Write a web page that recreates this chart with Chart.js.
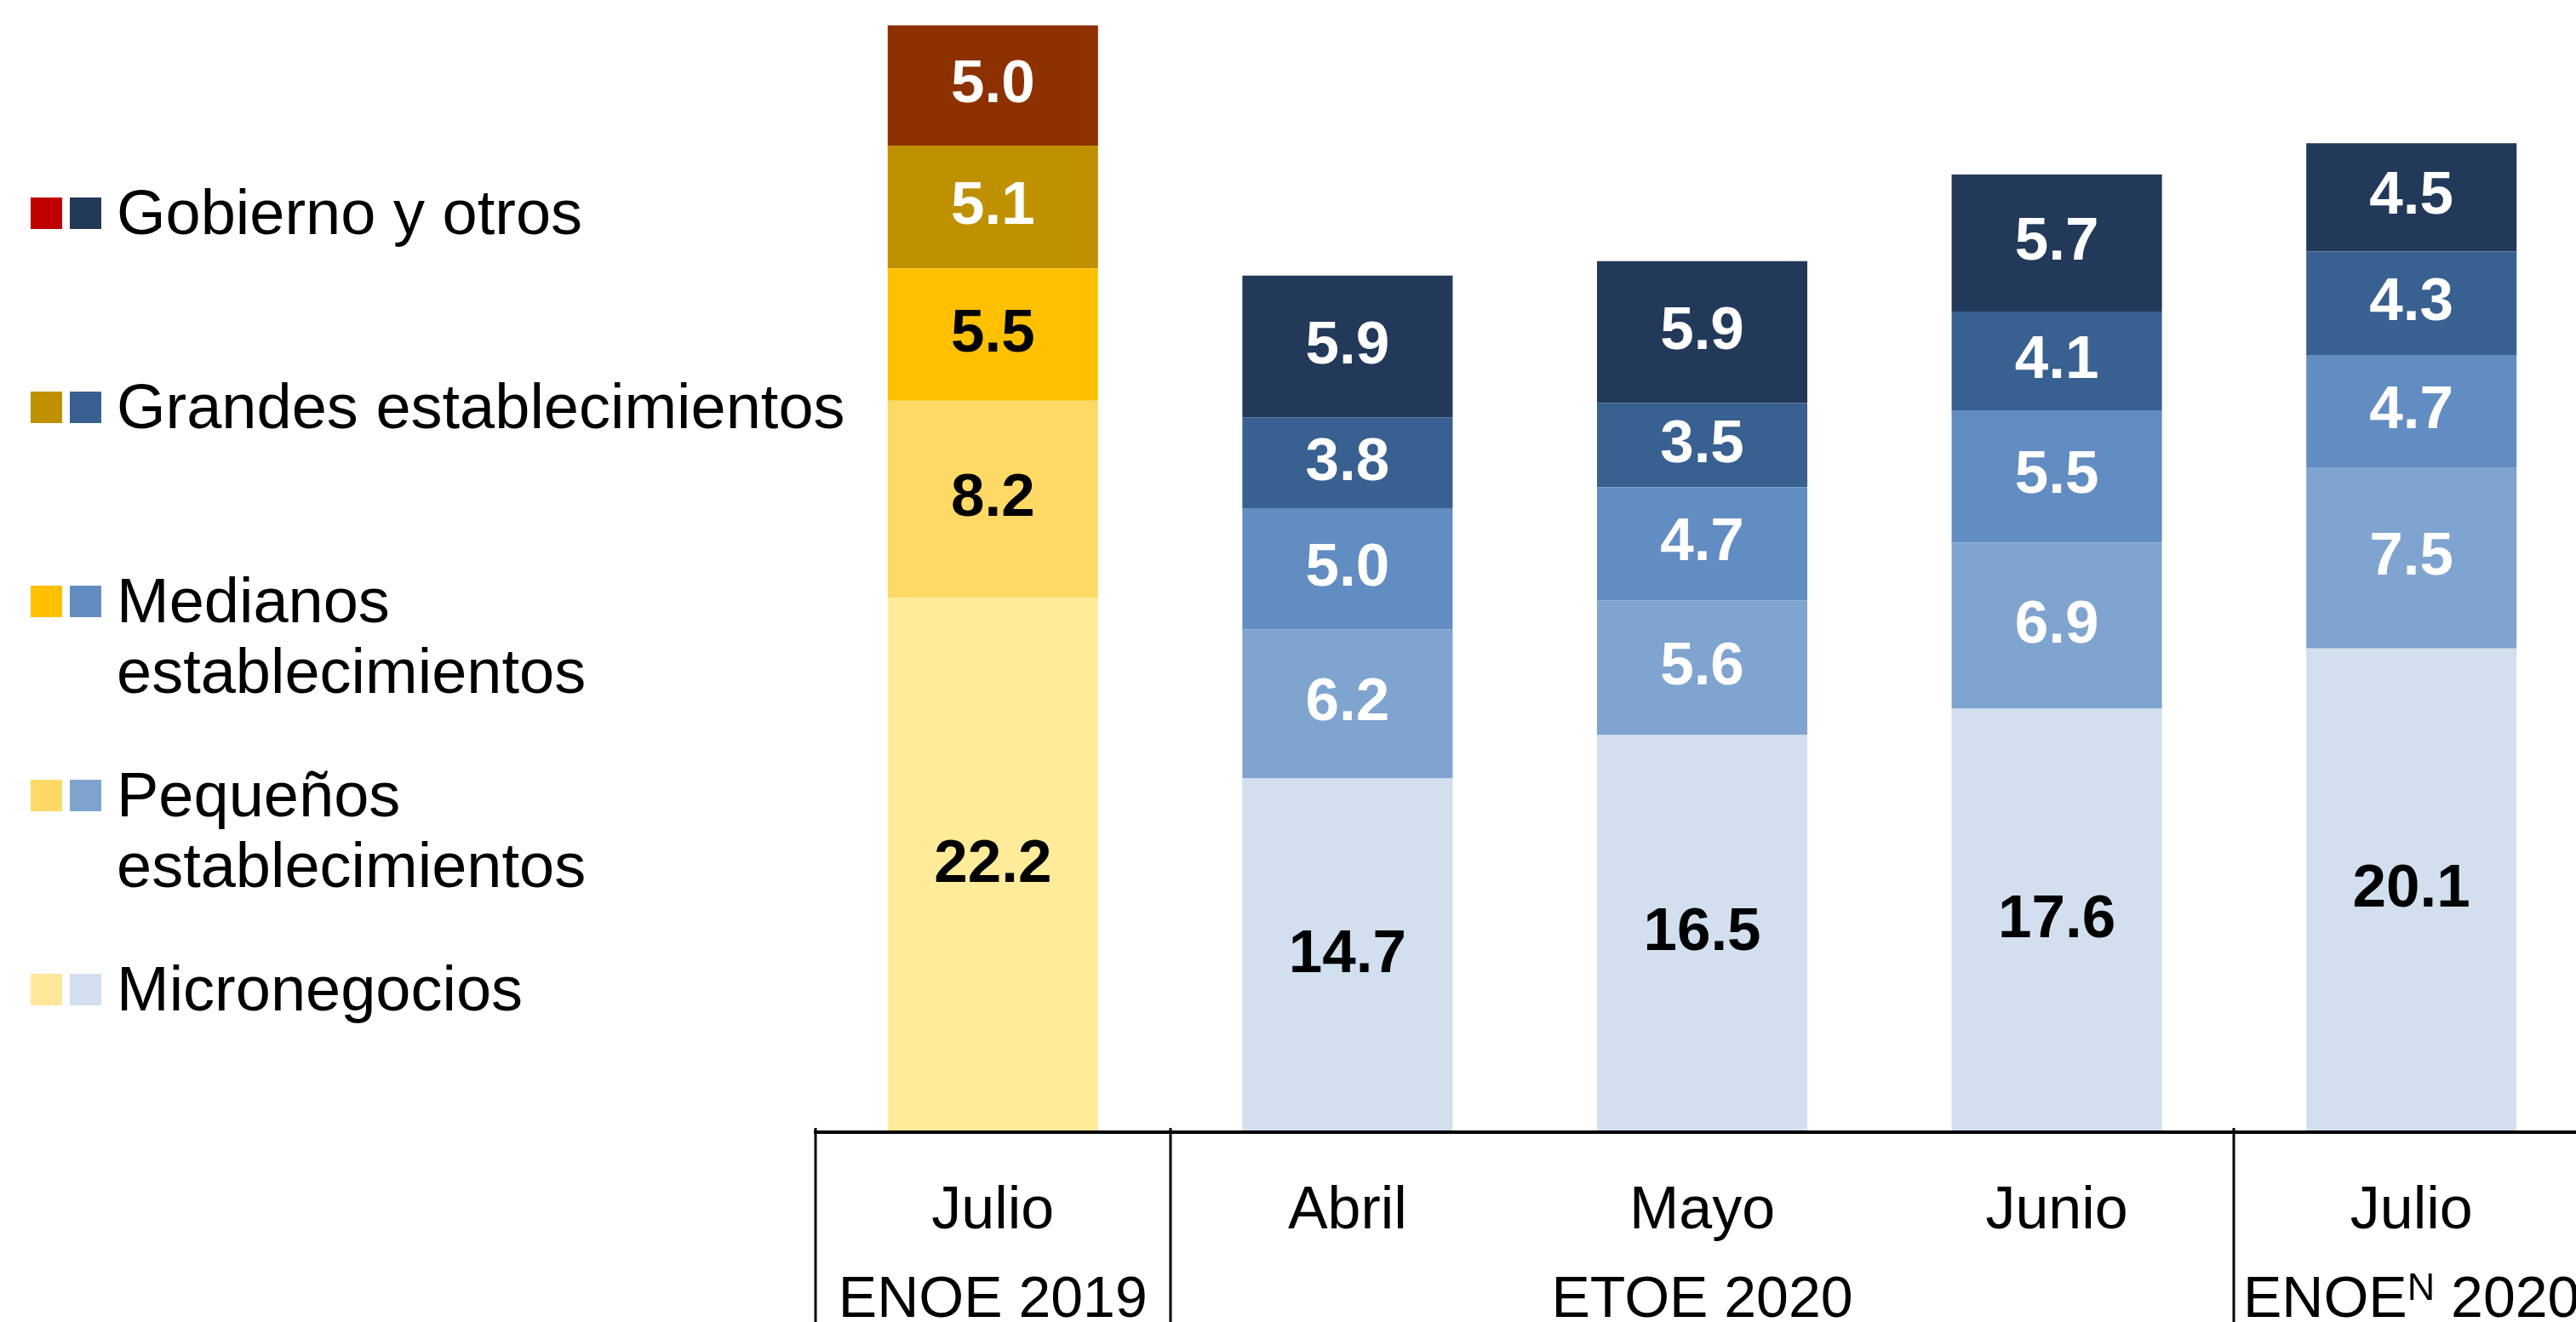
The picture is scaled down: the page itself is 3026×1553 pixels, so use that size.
<!DOCTYPE html>
<html>
<head>
<meta charset="utf-8">
<script src="https://cdn.jsdelivr.net/npm/chart.js@4.4.1/dist/chart.umd.min.js"></script>
<style>
  html, body { margin: 0; padding: 0; background: #ffffff; overflow: hidden; }
  body { width: 3026px; height: 1553px; position: relative; font-family: 'Liberation Sans', Arial, sans-serif; }
  #wrap { position: absolute; left: 0; top: 0; width: 3060px; height: 1553px; }
  .legend-row { position: absolute; left: 0; width: 1000px; height: 200px; }
  .legend-row .sw { position: absolute; top: 24px; width: 37px; height: 37px; }
  .legend-row .sw.a { left: 36px; }
  .legend-row .sw.b { left: 82px; }
  .legend-row .txt { position: absolute; left: 137px; top: 0; font-size: 74px; line-height: 83px; color: #000; white-space: pre; }
</style>
</head>
<body>
<div id="wrap"><canvas id="chart" width="3060" height="1553"></canvas></div>
<div id="legend"></div>
<script>
// categories and survey groups
const categories = ['Julio', 'Abril', 'Mayo', 'Junio', 'Julio'];
const surveyNames = ['ENOE', 'ETOE', 'ENOE'];
const surveySup = ['', '', 'N'];
const surveyYears = ['2019', '2020', '2020'];
const surveyAt = [0, 2, 4];          // category under which each survey label sits
const groupEdges = [0, 1, 4, 5];     // category boundaries with a separator line

// series values (stack order bottom -> top)
const micronegocios = [22.2, 14.7, 16.5, 17.6, 20.1];
const pequenos = [8.2, 6.2, 5.6, 6.9, 7.5];
const medianos = [5.5, 5.0, 4.7, 5.5, 4.7];
const grandes = [5.1, 3.8, 3.5, 4.1, 4.3];
const gobierno = [5.0, 5.9, 5.9, 5.7, 4.5];

const seriesNames = ['Micronegocios', 'Pequeños\nestablecimientos', 'Medianos\nestablecimientos', 'Grandes establecimientos', 'Gobierno y otros'];
const seriesValues = [micronegocios, pequenos, medianos, grandes, gobierno];

// colours: 2019 bar (gold family) and 2020 bars (blue family)
const goldBars = ['#FFEB9A', '#FFD966', '#FFC000', '#BF9000', '#8E3100'];
const goldLegend = ['#FFE699', '#FFD966', '#FFC000', '#BF9000', '#C00000'];
const blueBars = ['#D2DFEE', '#7FA4CF', '#628DC2', '#386090', '#22395A'];
// label colour for 2019 / 2020 bars
const goldText = ['#000', '#000', '#000', '#fff', '#fff'];
const blueText = ['#000', '#fff', '#fff', '#fff', '#fff'];

const FONT = "'Liberation Sans', Arial, sans-serif";

// legend (top to bottom = reverse stack order)
const legend = document.getElementById('legend');
for (let i = 0; i < seriesNames.length; i++) {
    const s = seriesNames.length - 1 - i;
    const row = document.createElement('div');
    row.className = 'legend-row';
    row.style.top = (208 + i * 228) + 'px';
    row.innerHTML = '<div class="sw a" style="background:' + goldLegend[s] + '"></div>' +
        '<div class="sw b" style="background:' + blueBars[s] + '"></div>' +
        '<div class="txt">' + seriesNames[s] + '</div>';
    legend.appendChild(row);
}

const datasets = seriesValues.map((vals, s) => ({
    label: seriesNames[s].replace('\n', ' '),
    data: vals,
    backgroundColor: vals.map((v, i) => i === 0 ? goldBars[s] : blueBars[s]),
    borderWidth: 0,
    barPercentage: 0.593,
    categoryPercentage: 1.0
}));

const barLabels = {
    id: 'barLabels',
    afterDatasetsDraw(chart) {
        const ctx = chart.ctx;
        ctx.save();
        ctx.font = 'bold 71px ' + FONT;
        ctx.textAlign = 'center';
        ctx.textBaseline = 'middle';
        chart.data.datasets.forEach((ds, s) => {
            chart.getDatasetMeta(s).data.forEach((bar, i) => {
                const p = bar.getProps(['x', 'y', 'base'], true);
                ctx.fillStyle = i === 0 ? goldText[s] : blueText[s];
                ctx.fillText(ds.data[i].toFixed(1), p.x, (p.y + p.base) / 2);
            });
        });
        ctx.restore();
    }
};

const axisFrame = {
    id: 'axisFrame',
    afterDraw(chart) {
        const ctx = chart.ctx;
        const area = chart.chartArea;
        const xs = chart.scales.x;
        ctx.save();
        ctx.strokeStyle = '#000';
        ctx.lineWidth = 4;
        ctx.beginPath();
        ctx.moveTo(area.left - 2, area.bottom);
        ctx.lineTo(chart.width, area.bottom);
        ctx.stroke();
        ctx.lineWidth = 3;
        groupEdges.forEach(e => {
            const x = Math.round(xs.getPixelForValue(e - 0.5));
            ctx.beginPath();
            ctx.moveTo(x, area.bottom - 5);
            ctx.lineTo(x, chart.height);
            ctx.stroke();
        });
        // survey labels
        const y = area.bottom + 217;
        ctx.fillStyle = '#000';
        ctx.textBaseline = 'alphabetic';
        ctx.textAlign = 'left';
        surveyNames.forEach((name, k) => {
            const big = '68px ' + FONT, small = '45px ' + FONT;
            ctx.font = big;
            const w1 = ctx.measureText(name).width;
            const w3 = ctx.measureText(' ' + surveyYears[k]).width;
            ctx.font = small;
            const w2 = surveySup[k] ? ctx.measureText(surveySup[k]).width : 0;
            const cx = xs.getPixelForValue(surveyAt[k]);
            let x = cx - (w1 + w2 + w3) / 2;
            ctx.font = big;
            ctx.fillText(name, x, y);
            x += w1;
            if (surveySup[k]) {
                ctx.font = small;
                ctx.fillText(surveySup[k], x, y - 20);
                x += w2;
            }
            ctx.font = big;
            ctx.fillText(' ' + surveyYears[k], x, y);
        });
        ctx.restore();
    }
};

new Chart(document.getElementById('chart'), {
    type: 'bar',
    data: { labels: categories, datasets: datasets },
    options: {
        responsive: false,
        animation: false,
        events: [],
        layout: { padding: { left: 958, right: 19, top: 0, bottom: 0 } },
        plugins: { legend: { display: false }, tooltip: { enabled: false } },
        scales: {
            x: {
                stacked: true,
                grid: { display: false, drawTicks: false },
                border: { display: false },
                ticks: { color: '#000', padding: 52, font: { family: FONT, size: 70 }, maxRotation: 0, autoSkip: false },
                afterFit: s => { s.height = 223; }
            },
            y: {
                stacked: true,
                display: false,
                min: 0,
                max: 47.05
            }
        }
    },
    plugins: [barLabels, axisFrame]
});
</script>
</body>
</html>
